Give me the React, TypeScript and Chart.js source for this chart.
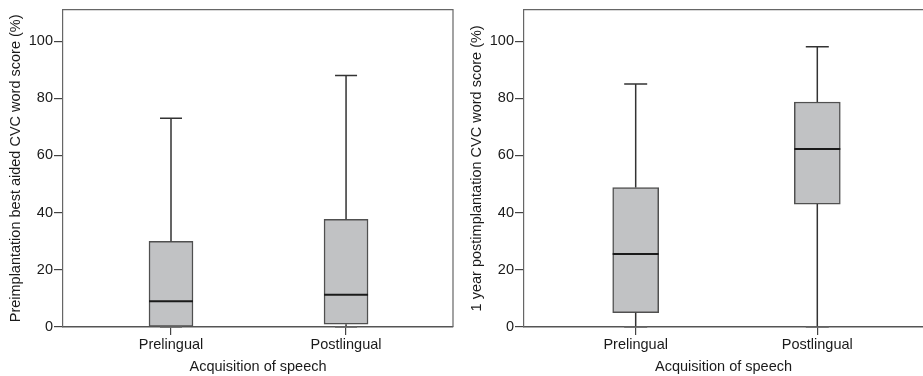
import React, { useEffect, useRef } from "react";
import { Chart, registerables } from "chart.js";

Chart.register(...registerables);

// ---------- data ----------
const categories = ["Prelingual", "Postlingual"];
const yTicks = [0, 20, 40, 60, 80, 100];

// Panel A: preimplantation best aided CVC word score (%)
const preMin = [0, 0];
const preQ1 = [0, 1];
const preMedian = [9, 11.3];
const preQ3 = [30, 37.7];
const preMax = [73, 88];

// Panel B: 1 year postimplantation CVC word score (%)
const postMin = [0, 0];
const postQ1 = [5, 43];
const postMedian = [25.5, 62.3];
const postQ3 = [48.8, 78.7];
const postMax = [85, 98];

const FONT = { family: "'Liberation Sans', Arial, sans-serif", size: 14.5 };
const TEXT = "#1a1a1a";
const AXIS = "#555555";

type Stats = { min: number[]; q1: number[]; med: number[]; q3: number[]; max: number[] };

function makeBoxPlugin(stats: Stats) {
  return {
    id: "boxWhiskers",
    afterDatasetsDraw(chart: any) {
      const { ctx, scales } = chart;
      const x = scales.x;
      const y = scales.y;
      const meta = chart.getDatasetMeta(0);
      ctx.save();
      categories.forEach((_, i) => {
        const el = meta.data[i];
        const bw = el ? el.width : 40;
        const cx = x.getPixelForValue(i);
        const yMin = y.getPixelForValue(stats.min[i]);
        const yQ1 = y.getPixelForValue(stats.q1[i]);
        const yMed = y.getPixelForValue(stats.med[i]);
        const yQ3 = y.getPixelForValue(stats.q3[i]);
        const yMax = y.getPixelForValue(stats.max[i]);
        const cap = bw / 4;
        ctx.strokeStyle = "#333333";
        ctx.lineWidth = 1.5;
        ctx.beginPath();
        ctx.moveTo(cx, yQ3);
        ctx.lineTo(cx, yMax);
        ctx.moveTo(cx - cap, yMax);
        ctx.lineTo(cx + cap, yMax);
        if (yMin > yQ1 + 0.5) {
          ctx.moveTo(cx, yQ1);
          ctx.lineTo(cx, yMin);
        }
        ctx.stroke();
        ctx.strokeStyle = "#666666";
        ctx.beginPath();
        ctx.moveTo(cx - cap, yMin);
        ctx.lineTo(cx + cap, yMin);
        ctx.stroke();
        ctx.strokeStyle = "#1a1a1a";
        ctx.lineWidth = 2;
        ctx.beginPath();
        ctx.moveTo(cx - bw / 2, yMed);
        ctx.lineTo(cx + bw / 2, yMed);
        ctx.stroke();
      });
      ctx.restore();
    },
  };
}

function makeFramePlugin(drawRight: boolean) {
  return {
    id: "frame",
    beforeDatasetsDraw(chart: any) {
      const { ctx, chartArea } = chart;
      ctx.save();
      ctx.strokeStyle = "#666666";
      ctx.lineWidth = 1.2;
      ctx.beginPath();
      ctx.moveTo(chartArea.left, chartArea.top);
      ctx.lineTo(chartArea.right, chartArea.top);
      if (drawRight) ctx.lineTo(chartArea.right, chartArea.bottom);
      ctx.stroke();
      ctx.restore();
    },
  };
}

function BoxChart(props: {
  width: number;
  height: number;
  stats: Stats;
  title: string;
  yAxisWidth: number;
  xMin: number;
  xMax: number;
  barThickness: number;
  rightPad: number;
  drawRight: boolean;
  titlePad: number;
}) {
  const ref = useRef<HTMLCanvasElement | null>(null);
  useEffect(() => {
    if (!ref.current) return;
    const s = props.stats;
    const chart = new Chart(ref.current, {
      type: "bar",
      data: {
        datasets: [
          {
            data: categories.map((_, i) => ({ x: i, y: [s.q1[i], s.q3[i]] })) as any,
            backgroundColor: "#c1c2c4",
            borderColor: "#505050",
            borderWidth: 1.5,
            borderSkipped: false,
            barThickness: props.barThickness,
          },
        ],
      },
      options: {
        animation: false,
        responsive: false,
        devicePixelRatio: 1,
        layout: { padding: { top: 7, right: props.rightPad, left: 0, bottom: 0 } },
        plugins: { legend: { display: false }, tooltip: { enabled: false } },
        scales: {
          x: {
            type: "linear",
            min: props.xMin,
            max: props.xMax,
            offset: false,
            afterBuildTicks: (sc: any) => {
              sc.ticks = categories.map((_, i) => ({ value: i }));
            },
            afterFit: (sc: any) => {
              sc.height = 49;
            },
            ticks: {
              callback: (_v: any, idx: number) => categories[idx],
              font: FONT,
              color: TEXT,
              padding: 1,
              maxRotation: 0,
              autoSkip: false,
            },
            grid: { drawOnChartArea: false, drawTicks: true, tickLength: 8, color: "#444444", lineWidth: 1.2, offset: false },
            border: { display: true, color: AXIS, width: 1.5 },
            title: { display: true, text: "Acquisition of speech", font: FONT, color: TEXT, padding: { top: 0, bottom: 0 } },
          },
          y: {
            type: "linear",
            min: 0,
            max: 111,
            afterBuildTicks: (sc: any) => {
              sc.ticks = yTicks.map((v) => ({ value: v }));
            },
            afterFit: (sc: any) => {
              sc.width = props.yAxisWidth;
            },
            ticks: { font: FONT, color: TEXT, padding: 1 },
            grid: { drawOnChartArea: false, drawTicks: true, tickLength: 9, color: "#444444", lineWidth: 1.2 },
            border: { display: true, color: "#666666", width: 1.2 },
            title: { display: true, text: props.title, font: FONT, color: TEXT, padding: { top: props.titlePad, bottom: 0 } },
          },
        },
      } as any,
      plugins: [makeFramePlugin(props.drawRight), makeBoxPlugin(props.stats)],
    });
    return () => chart.destroy();
  }, []);
  return <canvas ref={ref} width={props.width} height={props.height} style={{ display: "block" }} />;
}

export default function App() {
  return (
    <div style={{ position: "fixed", left: 0, top: 0, width: 923, height: 376, background: "#ffffff", overflow: "hidden" }}>
      <div style={{ position: "absolute", left: 0, top: 0 }}>
        <BoxChart
          width={460}
          height={376}
          stats={{ min: preMin, q1: preQ1, med: preMedian, q3: preQ3, max: preMax }}
          title="Preimplantation best aided CVC word score (%)"
          yAxisWidth={63}
          xMin={-0.617}
          xMax={1.611}
          barThickness={44}
          rightPad={7}
          drawRight={true}
          titlePad={7}
        />
      </div>
      <div style={{ position: "absolute", left: 460, top: 0 }}>
        <BoxChart
          width={463}
          height={376}
          stats={{ min: postMin, q1: postQ1, med: postMedian, q3: postQ3, max: postMax }}
          title="1 year postimplantation CVC word score (%)"
          yAxisWidth={64}
          xMin={-0.615}
          xMax={1.582}
          barThickness={46}
          rightPad={0}
          drawRight={false}
          titlePad={8}
        />
      </div>
    </div>
  );
}
